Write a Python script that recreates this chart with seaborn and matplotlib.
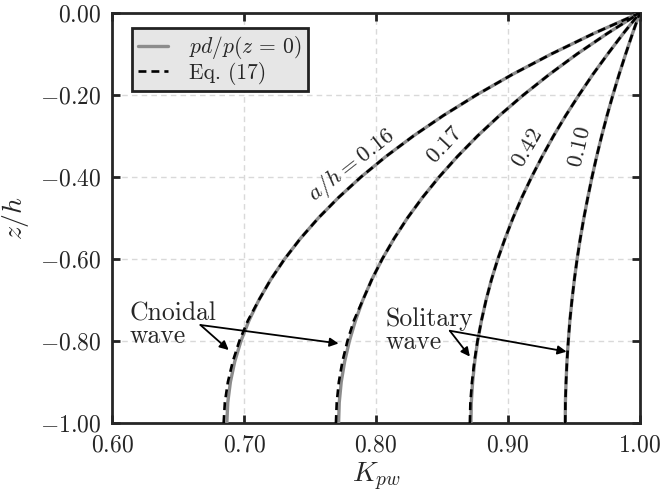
import numpy as np
import pandas as pd
import matplotlib
matplotlib.use('Agg')
import matplotlib.pyplot as plt
from matplotlib.ticker import FuncFormatter
import seaborn as sns

# depth z/h, bottom to surface (step 0.05)
z_h = [-1.00, -0.95, -0.90, -0.85, -0.80, -0.75, -0.70, -0.65, -0.60, -0.55, -0.50,
       -0.45, -0.40, -0.35, -0.30, -0.25, -0.20, -0.15, -0.10, -0.05, 0.00]

# pd/p(z=0), grey solid
k_016 = [0.6870, 0.6877, 0.6897, 0.6930, 0.6977, 0.7038, 0.7113, 0.7203, 0.7308, 0.7428, 0.7564,
         0.7717, 0.7887, 0.8076, 0.8284, 0.8512, 0.8762, 0.9034, 0.9330, 0.9651, 1.0]
k_017 = [0.7717, 0.7722, 0.7737, 0.7763, 0.7799, 0.7845, 0.7901, 0.7969, 0.8048, 0.8138, 0.8239,
         0.8353, 0.8479, 0.8618, 0.8770, 0.8937, 0.9118, 0.9314, 0.9525, 0.9754, 1.0]
k_042 = [0.8720, 0.8723, 0.8733, 0.8749, 0.8771, 0.8800, 0.8835, 0.8876, 0.8924, 0.8979, 0.9039,
         0.9106, 0.9180, 0.9260, 0.9346, 0.9439, 0.9539, 0.9644, 0.9757, 0.9875, 1.0]
k_010 = [0.9435, 0.9436, 0.9441, 0.9448, 0.9458, 0.9470, 0.9486, 0.9504, 0.9525, 0.9549, 0.9576,
         0.9606, 0.9638, 0.9673, 0.9711, 0.9752, 0.9796, 0.9843, 0.9893, 0.9945, 1.0]

# Eq. (17), black dashed
e_016 = [0.6846, 0.6855, 0.6878, 0.6915, 0.6965, 0.7030, 0.7113, 0.7203, 0.7308, 0.7428, 0.7564,
         0.7717, 0.7887, 0.8076, 0.8284, 0.8512, 0.8762, 0.9034, 0.9330, 0.9651, 1.0]
e_017 = [0.7697, 0.7703, 0.7719, 0.7746, 0.7784, 0.7833, 0.7901, 0.7969, 0.8048, 0.8138, 0.8239,
         0.8353, 0.8479, 0.8618, 0.8770, 0.8937, 0.9118, 0.9314, 0.9525, 0.9754, 1.0]
e_042 = [0.8712, 0.8716, 0.8728, 0.8746, 0.8770, 0.8800, 0.8835, 0.8876, 0.8924, 0.8979, 0.9039,
         0.9106, 0.9180, 0.9260, 0.9346, 0.9439, 0.9539, 0.9644, 0.9757, 0.9875, 1.0]
e_010 = [0.9435, 0.9436, 0.9441, 0.9448, 0.9458, 0.9470, 0.9486, 0.9504, 0.9525, 0.9549, 0.9576,
         0.9606, 0.9638, 0.9673, 0.9711, 0.9752, 0.9796, 0.9843, 0.9893, 0.9945, 1.0]

curve_labels = ['$a/h = 0.16$', '$0.17$', '$0.42$', '$0.10$']
x_ticks = [0.6, 0.7, 0.8, 0.9, 1.0]
y_ticks = [-1.0, -0.8, -0.6, -0.4, -0.2, 0.0]

sns.set_style('ticks')
plt.rcParams['font.family'] = ['cmr10', 'DejaVu Serif']
plt.rcParams['mathtext.fontset'] = 'cm'
plt.rcParams['axes.unicode_minus'] = False
plt.rcParams['axes.formatter.use_mathtext'] = True

fig = plt.figure(figsize=(6.63, 4.98), dpi=100)
ax = fig.add_axes([0.169, 0.1506, 0.796, 0.8234])

solid = [k_016, k_017, k_042, k_010]
dashed = [e_016, e_017, e_042, e_010]
for i in range(4):
    df = pd.DataFrame({'K': solid[i], 'z': z_h})
    sns.lineplot(data=df, x='K', y='z', sort=False, ax=ax, color='#8c8c8c',
                 lw=2.4, label=r'$pd/p(z\,=\,0)$' if i == 0 else None, zorder=3)
for i in range(4):
    df = pd.DataFrame({'K': dashed[i], 'z': z_h})
    sns.lineplot(data=df, x='K', y='z', sort=False, ax=ax, color='black',
                 lw=1.9, ls=(0, (3.0, 1.9)), label='Eq. (17)' if i == 0 else None,
                 zorder=4)

ax.set_xlim(0.6, 1.0)
ax.set_ylim(-1.0, 0.0)
ax.set_xticks(x_ticks)
ax.set_yticks(y_ticks)
ax.xaxis.set_major_formatter(FuncFormatter(lambda v, p: '$%.2f$' % v))
ax.yaxis.set_major_formatter(FuncFormatter(lambda v, p: '$%.2f$' % (0.0 if abs(v) < 1e-9 else v)))
ax.tick_params(direction='in', length=6, width=2, top=True, right=True,
               labelsize=17, pad=8, color='#222222')
ax.grid(True, ls=(0, (4, 3)), color='#d9d9d9', lw=1.0)
for s in ax.spines.values():
    s.set_linewidth(2.0)
    s.set_color('#262626')

ax.set_xlabel('$K_{pw}$', fontsize=20, labelpad=3)
ax.set_ylabel('$z/h$', fontsize=20, labelpad=6)

# curve labels
ax.text(0.782, -0.372, curve_labels[0], fontsize=16.5, rotation=38, ha='center', va='center')
ax.text(0.852, -0.323, curve_labels[1], fontsize=16.5, rotation=47, ha='center', va='center')
ax.text(0.915, -0.329, curve_labels[2], fontsize=16.5, rotation=60, ha='center', va='center')
ax.text(0.955, -0.327, curve_labels[3], fontsize=16.5, rotation=77, ha='center', va='center')

# wave type annotations
ap = dict(arrowstyle='-|>', color='black', lw=1.3, mutation_scale=13, shrinkA=0, shrinkB=0)
ax.text(0.6136, -0.761, 'Cnoidal\nwave', fontsize=18.5, ha='left', va='center', linespacing=0.95)
ax.annotate('', xy=(0.6884, -0.822), xytext=(0.667, -0.761), arrowprops=ap)
ax.annotate('', xy=(0.7717, -0.806), xytext=(0.667, -0.761), arrowprops=ap)
ax.text(0.8076, -0.774, 'Solitary\nwave', fontsize=18.5, ha='left', va='center', linespacing=0.95)
ax.annotate('', xy=(0.8712, -0.838), xytext=(0.856, -0.775), arrowprops=ap)
ax.annotate('', xy=(0.9445, -0.826), xytext=(0.856, -0.775), arrowprops=ap)

leg = ax.legend(loc='upper left', bbox_to_anchor=(0.037, 0.963), borderaxespad=0,
                fontsize=15.5, fancybox=False, framealpha=1, facecolor='#e6e6e6',
                edgecolor='#222222', handlelength=1.4, borderpad=0.28,
                labelspacing=0.02, handletextpad=1.0)
leg.get_frame().set_linewidth(2.0)
leg.set_zorder(10)

fig.savefig('out.png', dpi=100)
